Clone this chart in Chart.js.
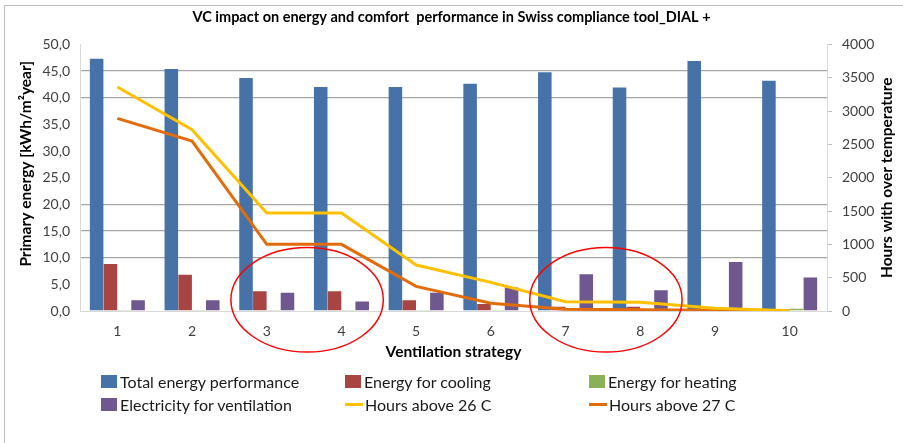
<!DOCTYPE html>
<html lang="en">
<head>
    <meta charset="UTF-8">
    <title>VC impact on energy and comfort performance</title>
    <script src="https://cdn.jsdelivr.net/npm/chart.js"></script>
    <style>
        body {
            margin: 0;
            padding: 0;
            background: #ffffff;
            font-family: 'Lato', 'Liberation Sans', sans-serif;
        }

        .wrap {
            position: relative;
            width: 903px;
            height: 443px;
            overflow: hidden;
        }

        .frame {
            position: absolute;
            left: 4px;
            top: 5px;
            width: 920px;
            height: 460px;
            border-left: 1px solid #bdbdbd;
            border-top: 1px solid #bdbdbd;
        }

        #vcChart {
            position: absolute;
            left: 0;
            top: 0;
        }

        .legend {
            position: absolute;
            left: 101px;
            top: 372px;
            display: grid;
            grid-template-columns: 244px 244px 220px;
            row-gap: 5px;
            font-size: 16px;
            color: #1a1a1a;
        }

        .legend-item {
            display: flex;
            align-items: center;
            height: 18px;
            white-space: nowrap;
        }

        .legend-box {
            width: 16px;
            height: 13px;
            margin-right: 3px;
        }

        .legend-line {
            width: 18px;
            height: 3px;
            margin-right: 2px;
        }
    </style>
</head>
<body>
    <div class="wrap">
        <div class="frame"></div>
        <canvas id="vcChart" width="903" height="443"></canvas>
        <div class="legend" id="legend"></div>
    </div>

    <script>
        // estrategias de ventilacion
        const strategies = ['1', '2', '3', '4', '5', '6', '7', '8', '9', '10'];

        // kWh/m2year
        const totalEnergy = [47.3, 45.4, 43.7, 42.0, 42.0, 42.6, 44.8, 41.9, 46.9, 43.2];
        const coolingEnergy = [8.8, 6.8, 3.7, 3.7, 2.0, 1.3, 0.8, 0.8, 0.3, 0.05];
        const heatingEnergy = [0.1, 0.1, 0.1, 0.1, 0.1, 0.1, 0.05, 0.05, 0.05, 0.4];
        const ventElectricity = [2.0, 2.0, 3.4, 1.8, 3.4, 4.4, 6.9, 3.9, 9.2, 6.3];

        // hours
        const hoursAbove26 = [3360, 2720, 1470, 1470, 690, 430, 140, 130, 40, 5];
        const hoursAbove27 = [2890, 2550, 1000, 1000, 370, 115, 25, 20, 10, 5];

        const energyTicks = [0, 5, 10, 15, 20, 25, 30, 35, 40, 45, 50];
        const hourTicks = [0, 500, 1000, 1500, 2000, 2500, 3000, 3500, 4000];
        const visibleGrid = [10, 15, 20, 40, 45];

        // circulos rojos: pares de estrategias marcadas
        const highlighted = [[2, 3], [6, 7]];

        const ellipsePlugin = {
            id: 'ellipses',
            afterDatasetsDraw(chart) {
                const ctx = chart.ctx;
                const x = chart.scales.x;
                const y = chart.scales.y;
                ctx.save();
                ctx.strokeStyle = '#ff0000';
                ctx.lineWidth = 1.5;
                highlighted.forEach(pair => {
                    const a = x.getPixelForValue(pair[0]);
                    const b = x.getPixelForValue(pair[1]);
                    const cx = (a + b) / 2 + 3;
                    const cy = y.getPixelForValue(2.1);
                    const rx = (b - a) * 1.02;
                    const ry = y.getPixelForValue(0) - y.getPixelForValue(9.8);
                    ctx.beginPath();
                    ctx.ellipse(cx, cy, rx, ry, 0, 0, Math.PI * 2);
                    ctx.stroke();
                });
                ctx.restore();
            },
            afterDraw(chart) {
                // titulos de los ejes, leidos de abajo hacia arriba
                const y = chart.scales.y;
                const ctx = chart.ctx;
                ctx.save();
                ctx.font = 'bold 15.5px Lato';
                ctx.fillStyle = '#000000';
                ctx.textAlign = 'center';
                ctx.textBaseline = 'middle';

                ctx.translate(26, (y.top + y.bottom) / 2 - 14);
                ctx.rotate(-Math.PI / 2);
                ctx.fillText('Primary energy [kWh/m²year]', 0, 0);
                ctx.restore();

                ctx.save();
                ctx.font = 'bold 15.5px Lato';
                ctx.fillStyle = '#000000';
                ctx.textAlign = 'center';
                ctx.textBaseline = 'middle';
                ctx.translate(887, (y.top + y.bottom) / 2);
                ctx.rotate(-Math.PI / 2);
                ctx.fillText('Hours with over temperature', 0, 0);
                ctx.restore();
            }
        };

        const ctx = document.getElementById('vcChart').getContext('2d');

        const chart = new Chart(ctx, {
            data: {
                labels: strategies,
                datasets: [
                    {
                        type: 'bar',
                        label: 'Total energy performance',
                        data: totalEnergy,
                        backgroundColor: '#4672a8',
                        yAxisID: 'y',
                        order: 1
                    },
                    {
                        type: 'bar',
                        label: 'Energy for cooling',
                        data: coolingEnergy,
                        backgroundColor: '#a84542',
                        yAxisID: 'y',
                        order: 1
                    },
                    {
                        type: 'bar',
                        label: 'Energy for heating',
                        data: heatingEnergy,
                        backgroundColor: '#8cb055',
                        yAxisID: 'y',
                        order: 1
                    },
                    {
                        type: 'bar',
                        label: 'Electricity for ventilation',
                        data: ventElectricity,
                        backgroundColor: '#6f5790',
                        yAxisID: 'y',
                        order: 1
                    },
                    {
                        type: 'line',
                        label: 'Hours above 26 C',
                        data: hoursAbove26,
                        borderColor: '#ffc000',
                        backgroundColor: '#ffc000',
                        borderWidth: 3,
                        pointRadius: 0,
                        tension: 0,
                        yAxisID: 'y1',
                        order: 0
                    },
                    {
                        type: 'line',
                        label: 'Hours above 27 C',
                        data: hoursAbove27,
                        borderColor: '#e36c0a',
                        backgroundColor: '#e36c0a',
                        borderWidth: 3,
                        pointRadius: 0,
                        tension: 0,
                        yAxisID: 'y1',
                        order: 0
                    }
                ]
            },
            options: {
                responsive: false,
                animation: false,
                layout: {
                    padding: { left: 0, right: 0, top: 0, bottom: 77 }
                },
                datasets: {
                    bar: {
                        categoryPercentage: 0.74,
                        barPercentage: 0.98
                    }
                },
                plugins: {
                    legend: { display: false },
                    tooltip: { enabled: false },
                    title: {
                        display: true,
                        text: 'VC impact on energy and comfort  performance in Swiss compliance tool_DIAL +',
                        color: '#000000',
                        font: { family: 'Lato', size: 14.5, weight: 'bold' },
                        padding: { top: 9, bottom: 18 }
                    }
                },
                scales: {
                    x: {
                        grid: { display: false },
                        border: { color: '#d9d9d9' },
                        ticks: {
                            color: '#404040',
                            font: { family: 'Lato', size: 14 },
                            padding: 4
                        },
                        title: {
                            display: true,
                            text: 'Ventilation strategy',
                            color: '#000000',
                            font: { family: 'Lato', size: 15.5, weight: 'bold' },
                            padding: { top: 0, bottom: 5 }
                        },
                        afterFit(scale) { scale.height = 55; }
                    },
                    y: {
                        position: 'left',
                        min: 0,
                        max: 50,
                        afterBuildTicks(scale) {
                            scale.ticks = energyTicks.map(v => ({ value: v }));
                        },
                        grid: {
                            drawTicks: false,
                            color: c => visibleGrid.includes(c.tick.value) ? '#a6a6a6' : 'rgba(0,0,0,0)',
                            lineWidth: 1.3
                        },
                        border: { color: '#d9d9d9' },
                        ticks: {
                            color: '#404040',
                            font: { family: 'Lato', size: 14 },
                            padding: 10,
                            callback: v => v.toFixed(1).replace('.', ',')
                        },
                        afterFit(scale) { scale.width = 80; }
                    },
                    y1: {
                        position: 'right',
                        min: 0,
                        max: 4000,
                        afterBuildTicks(scale) {
                            scale.ticks = hourTicks.map(v => ({ value: v }));
                        },
                        grid: {
                            drawOnChartArea: false,
                            tickLength: 5,
                            color: '#bfbfbf'
                        },
                        border: { color: '#d9d9d9' },
                        ticks: {
                            color: '#404040',
                            font: { family: 'Lato', size: 14 },
                            padding: 10,
                            callback: v => String(v)
                        },
                        afterFit(scale) { scale.width = 76; }
                    }
                }
            },
            plugins: [ellipsePlugin]
        });

        // leyenda en dos filas de tres columnas
        const legendOrder = [0, 1, 2, 3, 4, 5];
        const legendEl = document.getElementById('legend');
        legendOrder.forEach(i => {
            const ds = chart.data.datasets[i];
            const item = document.createElement('div');
            item.className = 'legend-item';
            const mark = document.createElement('span');
            mark.className = ds.type === 'line' ? 'legend-line' : 'legend-box';
            mark.style.background = ds.type === 'line' ? ds.borderColor : ds.backgroundColor;
            const text = document.createElement('span');
            text.textContent = ds.label;
            item.appendChild(mark);
            item.appendChild(text);
            legendEl.appendChild(item);
        });
    </script>
</body>
</html>
